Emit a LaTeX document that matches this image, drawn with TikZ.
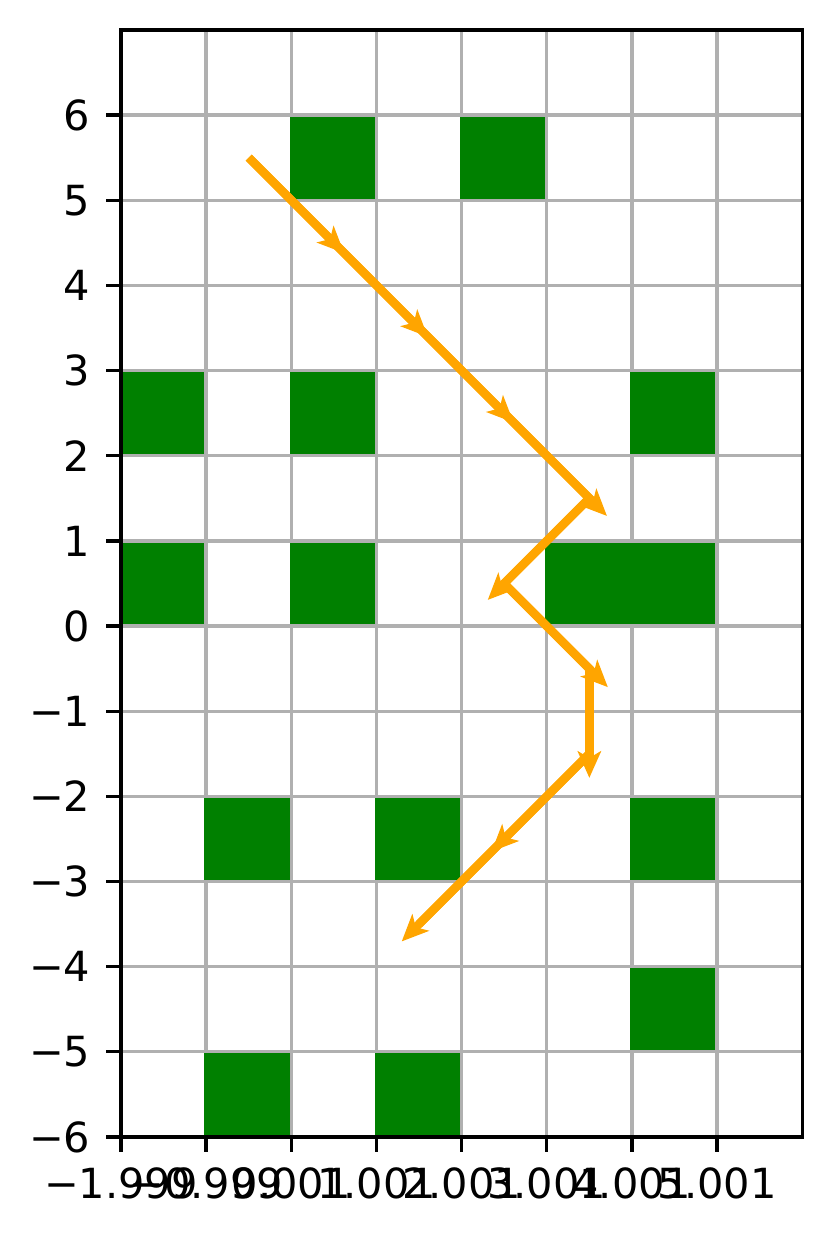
\documentclass[tikz,border=0pt]{standalone}
\usepackage{fontspec}
\setmainfont{DejaVu Sans}
\usepackage{xcolor}
\usepackage{tikz}
\usetikzlibrary{arrows.meta}

\definecolor{leafgreen}{HTML}{008000}
\definecolor{pathorange}{HTML}{FFA500}
\definecolor{gridgray}{HTML}{B0B0B0}

\begin{document}
\begin{tikzpicture}[
x=20.51pt,
y=20.51pt,
every node/.style={font=\fontsize{10pt}{12pt}\selectfont,inner sep=0pt},
gridline/.style={draw=gridgray,line width=0.8pt},
axisframe/.style={draw=black,line width=0.8pt},
tickmark/.style={draw=black,line width=0.8pt},
xlab/.style={anchor=north,yshift=-3.5pt},
ylab/.style={anchor=east,xshift=-3.5pt},
cell/.pic={\fill[leafgreen] ([xshift=-0.4pt,yshift=0.4pt]0,0) rectangle ([xshift=-0.4pt,yshift=-0.4pt]1,1);},
walk/.style={draw=pathorange,line width=2.05pt},
hop/.style={walk,-{Stealth[length=6.4pt,width=5.6pt,inset=1.6pt]}}
]
\useasboundingbox (-3.421,-7.198) rectangle (6.364,7.352);

\draw[gridline,step=1] (-2,-6) grid (6,7);

\pic at (0,5) {cell};
\pic at (2,5) {cell};
\pic at (-2,2) {cell};
\pic at (0,2) {cell};
\pic at (4,2) {cell};
\pic at (-2,0) {cell};
\pic at (0,0) {cell};
\pic at (3,0) {cell};
\pic at (4,0) {cell};
\pic at (-1,-3) {cell};
\pic at (1,-3) {cell};
\pic at (4,-3) {cell};
\pic at (4,-5) {cell};
\pic at (-1,-6) {cell};
\pic at (1,-6) {cell};

\draw[axisframe] (-2,-6) rectangle (6,7);

\draw[tickmark] (-2,6) -- ++(-3.5pt,0) node[ylab] (ytick6) {6};
\draw[tickmark] (-2,5) -- ++(-3.5pt,0) node[ylab] (ytick5) {5};
\draw[tickmark] (-2,4) -- ++(-3.5pt,0) node[ylab] (ytick4) {4};
\draw[tickmark] (-2,3) -- ++(-3.5pt,0) node[ylab] (ytick3) {3};
\draw[tickmark] (-2,2) -- ++(-3.5pt,0) node[ylab] (ytick2) {2};
\draw[tickmark] (-2,1) -- ++(-3.5pt,0) node[ylab] (ytick1) {1};
\draw[tickmark] (-2,0) -- ++(-3.5pt,0) node[ylab] (ytick0) {0};
\draw[tickmark] (-2,-1) -- ++(-3.5pt,0) node[ylab] (ytickm1) {−1};
\draw[tickmark] (-2,-2) -- ++(-3.5pt,0) node[ylab] (ytickm2) {−2};
\draw[tickmark] (-2,-3) -- ++(-3.5pt,0) node[ylab] (ytickm3) {−3};
\draw[tickmark] (-2,-4) -- ++(-3.5pt,0) node[ylab] (ytickm4) {−4};
\draw[tickmark] (-2,-5) -- ++(-3.5pt,0) node[ylab] (ytickm5) {−5};
\draw[tickmark] (-2,-6) -- ++(-3.5pt,0) node[ylab] (ytickm6) {−6};

\draw[tickmark] (-2,-6) -- ++(0,-3.5pt) node[xlab] (xtickm2) {−1.999};
\draw[tickmark] (-1,-6) -- ++(0,-3.5pt) node[xlab] (xtickm1) {−0.999};
\draw[tickmark] (0,-6) -- ++(0,-3.5pt) node[xlab] (xtick0) {0.001};
\draw[tickmark] (1,-6) -- ++(0,-3.5pt) node[xlab] (xtick1) {1.001};
\draw[tickmark] (2,-6) -- ++(0,-3.5pt) node[xlab] (xtick2) {2.001};
\draw[tickmark] (3,-6) -- ++(0,-3.5pt) node[xlab] (xtick3) {3.001};
\draw[tickmark] (4,-6) -- ++(0,-3.5pt) node[xlab] (xtick4) {4.001};
\draw[tickmark] (5,-6) -- ++(0,-3.5pt) node[xlab] (xtick5) {5.001};

\coordinate (w0) at (-0.5,5.5);
\coordinate (w1) at (0.5,4.5);
\coordinate (w2) at (1.5,3.5);
\coordinate (w3) at (2.5,2.5);
\coordinate (w4) at (3.5,1.5);
\coordinate (w5) at (2.5,0.5);
\coordinate (w6) at (3.5,-0.5);
\coordinate (w7) at (3.5,-1.5);
\coordinate (w8) at (2.5,-2.5);
\coordinate (w9) at (1.5,-3.5);

\draw[walk] (w0) -- (w1) -- (w2) -- (w3) -- (w4) -- (w5) -- (w6) -- (w7) -- (w8) -- (w9);
\draw[hop,shorten >=-3.5pt] (w0) -- (w1);
\draw[hop,shorten >=-3.0pt] (w1) -- (w2);
\draw[hop,shorten >=-3.2pt] (w2) -- (w3);
\draw[hop,shorten >=-6.0pt] (w3) -- (w4);
\draw[hop,shorten >=-5.6pt] (w4) -- (w5);
\draw[hop,shorten >=-6.3pt] (w5) -- (w6);
\draw[hop,shorten >=-5.8pt] (w6) -- (w7);
\draw[hop,shorten >=-4.3pt] (w7) -- (w8);
\draw[hop,shorten >=-5.9pt] (w8) -- (w9);
\end{tikzpicture}
\end{document}
